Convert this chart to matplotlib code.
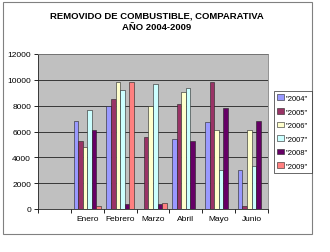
import numpy as np
import matplotlib
matplotlib.use("Agg")
import matplotlib.pyplot as plt
from matplotlib.patches import Rectangle, Patch

plt.rcParams['font.family'] = ['Liberation Sans', 'DejaVu Sans']

categories = ["", "Enero", "Febrero", "Marzo", "Abril", "Mayo", "Junio"]
series_names = ['"2004"', '"2005"', '"2006"', '"2007"', '"2008"', '"2009"']
nan = np.nan
v2004 = [nan, 6800, 8000, nan, 5400, 6700, 3000]
v2005 = [nan, 5300, 8500, 5600, 8100, 9870, 250]
v2006 = [nan, 4800, 9800, 8000, 9050, 6080, 6080]
v2007 = [nan, 7700, 9250, 9700, 9350, 3050, 3300]
v2008 = [nan, 6100, 350, 400, 5250, 7800, 6830]
v2009 = [nan, 250, 9800, 500, nan, nan, nan]
series = [v2004, v2005, v2006, v2007, v2008, v2009]
colors = ["#9999FF", "#993366", "#FFFFCC", "#CCFFFF", "#660066", "#FF8080"]
yticks = [0, 2000, 4000, 6000, 8000, 10000, 12000]

W, H = 330, 253
fig = plt.figure(figsize=(W / 100, H / 100), dpi=100)
fig.patch.set_facecolor("white")

# outer chart frame
fig.add_artist(Rectangle((3 / W, 1 - 235 / H), 309 / W, 232 / H,
                         transform=fig.transFigure, fill=False,
                         edgecolor="#808080", lw=0.8))

ax = fig.add_axes([38 / W, 1 - 210 / H, 230 / W, 155 / H])
ax.set_facecolor("#C0C0C0")

n = len(series)
bw = 0.139
x = np.arange(len(categories))
for i, (vals, c) in enumerate(zip(series, colors)):
    offs = (i - (n - 1) / 2) * bw
    ax.bar(x + offs, vals, width=bw, color=c, edgecolor="#222222",
           linewidth=0.4, zorder=3)

ax.set_xlim(-0.5, len(categories) - 0.5)
ax.set_ylim(0, 12000)
ax.set_yticks(yticks)
ax.set_yticklabels([str(t) for t in yticks], fontsize=6)
ax.set_xticks(x)
ax.set_xticklabels(categories, fontsize=6)
ax.set_xticks(np.arange(len(categories) + 1) - 0.5, minor=True)
ax.tick_params(axis="x", which="major", length=0, pad=4)
ax.tick_params(axis="x", which="minor", length=3, width=0.6, direction="out")
ax.tick_params(axis="y", length=3, width=0.6, direction="out", pad=2)
ax.grid(axis="y", color="#222222", linewidth=0.6, zorder=1)
ax.set_axisbelow(True)
for s in ["top", "right"]:
    ax.spines[s].set_color("#808080")
    ax.spines[s].set_linewidth(0.6)
for s in ["left", "bottom"]:
    ax.spines[s].set_color("#222222")
    ax.spines[s].set_linewidth(0.6)

fig.text(157 / W, 1 - 16 / H, "REMOVIDO DE COMBUSTIBLE, COMPARATIVA",
         ha="center", va="center", fontsize=6.8, fontweight="bold")
fig.text(157 / W, 1 - 28 / H, "AÑO 2004-2009",
         ha="center", va="center", fontsize=6.8, fontweight="bold")

handles = [Patch(facecolor=c, edgecolor="#222222", linewidth=0.4) for c in colors]
leg = fig.legend(handles, series_names, loc="upper left",
                 bbox_to_anchor=(274 / W, 1 - 92 / H), fontsize=5.5,
                 frameon=True, fancybox=False, handlelength=0.8,
                 handleheight=0.8, handletextpad=0.3, labelspacing=0.78,
                 borderpad=0.45, borderaxespad=0)
leg.get_frame().set_edgecolor("#222222")
leg.get_frame().set_linewidth(0.6)

fig.savefig("out.png", dpi=100)
